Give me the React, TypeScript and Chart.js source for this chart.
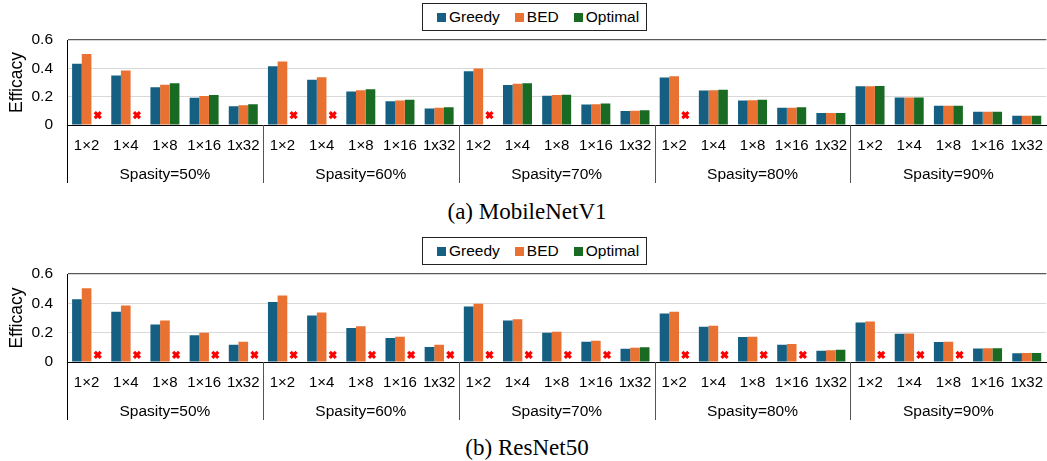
import React, { useEffect, useRef } from 'react';
import { Chart, registerables } from 'chart.js';

Chart.register(...registerables);

// ---------- data ----------
const blockSizes = ['1×2', '1×4', '1×8', '1×16', '1x32'];
const sparsityGroups = ['Spasity=50%', 'Spasity=60%', 'Spasity=70%', 'Spasity=80%', 'Spasity=90%'];
const categories = sparsityGroups.flatMap(() => blockSizes);

const yTickValues = [0, 0.2, 0.4, 0.6];
const yTickLabels = ['0', '0.2', '0.4', '0.6'];

const seriesNames = ['Greedy', 'BED', 'Optimal'];
const seriesColors = ['#156082', '#E97132', '#196B24'];

// (a) MobileNetV1
const greedyA = [0.433, 0.349, 0.267, 0.192, 0.133, 0.414, 0.320, 0.236, 0.168, 0.117, 0.379, 0.283, 0.206, 0.145, 0.098, 0.335, 0.243, 0.173, 0.122, 0.084, 0.274, 0.194, 0.136, 0.094, 0.065];
const bedA = [0.501, 0.384, 0.285, 0.204, 0.140, 0.449, 0.337, 0.246, 0.173, 0.122, 0.398, 0.292, 0.211, 0.147, 0.101, 0.344, 0.246, 0.175, 0.122, 0.084, 0.274, 0.194, 0.136, 0.094, 0.065];
const optimalA = [null, null, 0.295, 0.211, 0.147, null, null, 0.253, 0.178, 0.126, null, 0.295, 0.213, 0.152, 0.105, null, 0.248, 0.178, 0.126, 0.084, 0.275, 0.195, 0.136, 0.094, 0.065];
const missingMarkA = 0.07;

// (b) ResNet50
const greedyB = [0.428, 0.343, 0.255, 0.182, 0.117, 0.409, 0.317, 0.232, 0.163, 0.103, 0.379, 0.283, 0.200, 0.138, 0.090, 0.331, 0.241, 0.170, 0.117, 0.076, 0.269, 0.193, 0.136, 0.092, 0.060];
const bedB = [0.503, 0.386, 0.283, 0.200, 0.138, 0.453, 0.338, 0.244, 0.172, 0.117, 0.398, 0.292, 0.207, 0.145, 0.097, 0.343, 0.248, 0.172, 0.122, 0.080, 0.276, 0.195, 0.138, 0.094, 0.062];
const optimalB = [null, null, null, null, null, null, null, null, null, null, null, null, null, null, 0.101, null, null, null, null, 0.083, null, null, null, 0.094, 0.062];
const missingMarkB = 0.048;

const SANS = '"Liberation Sans", Arial, sans-serif';
const SERIF = '"Liberation Serif", "Times New Roman", serif';

type PanelProps = {
  top: number;
  height: number;
  greedy: (number | null)[];
  bed: (number | null)[];
  optimal: (number | null)[];
  missingMark: number;
  caption: string;
  captionTop: number;
};

function Panel({ top, height, greedy, bed, optimal, missingMark, caption, captionTop }: PanelProps) {
  const ref = useRef<HTMLCanvasElement | null>(null);

  useEffect(() => {
    if (!ref.current) return;
    const groupSize = blockSizes.length;

    const overlay = {
      id: 'overlay',
      afterDatasetsDraw(chart: any) {
        const ctx = chart.ctx;
        const yScale = chart.scales.y;
        const meta = chart.getDatasetMeta(2);
        ctx.save();
        ctx.strokeStyle = '#FF0000';
        ctx.lineWidth = 3.2;
        const s = 3;
        optimal.forEach((v, i) => {
          if (v !== null) return;
          const el = meta.data[i];
          if (!el) return;
          const x = el.x + 1.5;
          const y = yScale.getPixelForValue(missingMark);
          ctx.beginPath();
          ctx.moveTo(x - s, y - s);
          ctx.lineTo(x + s, y + s);
          ctx.moveTo(x + s, y - s);
          ctx.lineTo(x - s, y + s);
          ctx.stroke();
        });
        ctx.restore();
      },
      afterDraw(chart: any) {
        const ctx = chart.ctx;
        const xScale = chart.scales.x;
        const bottom = chart.chartArea.bottom;
        const end = bottom + 58;
        ctx.save();
        sparsityGroups.forEach((_, g) => {
          const x = Math.round(xScale.getPixelForValue(g * groupSize - 0.5)) + 0.5;
          ctx.strokeStyle = g === 0 ? '#000000' : '#555555';
          ctx.lineWidth = 1;
          ctx.beginPath();
          ctx.moveTo(x, bottom);
          ctx.lineTo(x, end);
          ctx.stroke();
        });
        ctx.restore();
      },
    };

    const chart = new Chart(ref.current, {
      type: 'bar',
      data: {
        labels: categories,
        datasets: [greedy, bed, optimal].map((d, k) => ({
          label: seriesNames[k],
          data: d,
          backgroundColor: seriesColors[k],
          borderWidth: 0,
          barPercentage: 1,
          categoryPercentage: 0.74,
        })),
      },
      options: {
        responsive: false,
        animation: false,
        layout: { padding: { top: 40, left: 0, right: 0, bottom: 0 } },
        plugins: {
          legend: { display: false },
          tooltip: { enabled: false },
        },
        scales: {
          x: {
            type: 'category',
            position: 'bottom',
            weight: 0,
            offset: true,
            grid: { display: false },
            border: { display: true, color: '#000000', width: 1 },
            ticks: {
              autoSkip: false,
              maxRotation: 0,
              minRotation: 0,
              padding: 4,
              color: '#000',
              font: { family: SANS, size: 15 },
            },
            afterFit: (s: any) => { s.height = 30; },
          },
          x2: {
            type: 'category',
            position: 'bottom',
            weight: 1,
            offset: true,
            labels: sparsityGroups,
            grid: { display: false },
            border: { display: false },
            ticks: {
              autoSkip: false,
              maxRotation: 0,
              minRotation: 0,
              padding: 2,
              color: '#000',
              font: { family: SANS, size: 15.5 },
            },
            afterFit: (s: any) => { s.height = 36; },
          },
          y: {
            min: 0,
            max: 0.6,
            afterBuildTicks: (s: any) => { s.ticks = yTickValues.map((v) => ({ value: v })); },
            grid: {
              drawTicks: false,
              color: (c: any) => (c.tick && c.tick.value >= 0.6 - 1e-9 ? '#595959' : '#d9d9d9'),
              lineWidth: (c: any) => (c.tick && c.tick.value >= 0.6 - 1e-9 ? 1.3 : 1),
            },
            border: { display: true, color: '#000000', width: 1 },
            ticks: {
              padding: 14,
              color: '#000',
              font: { family: SANS, size: 15.5 },
              callback: (_v: any, i: number) => yTickLabels[i],
            },
            title: {
              display: true,
              text: 'Efficacy',
              color: '#000',
              padding: { top: 7, bottom: 0 },
              font: { family: SANS, size: 17.5 },
            },
            afterFit: (s: any) => { s.width = 67; },
          },
        },
      } as any,
      plugins: [overlay],
    });
    return () => chart.destroy();
  }, []);

  return (
    <>
      <canvas
        ref={ref}
        width={1047}
        height={height}
        style={{ position: 'absolute', left: 0, top, width: 1047, height, display: 'block' }}
      />
      <div
        style={{
          position: 'absolute',
          left: 422,
          top: top + 3,
          width: 225,
          height: 28,
          boxSizing: 'border-box',
          border: '1px solid #222',
          background: '#fff',
          display: 'flex',
          alignItems: 'center',
          paddingLeft: 14,
          fontFamily: SANS,
          fontSize: 15.5,
          color: '#000',
        }}
      >
        {seriesNames.map((n, k) => (
          <span key={n} style={{ display: 'flex', alignItems: 'center', marginRight: k < 2 ? 15 : 0 }}>
            <span style={{ display: 'inline-block', width: 9, height: 9, background: seriesColors[k], marginRight: 3 }} />
            {n}
          </span>
        ))}
      </div>
      <div
        style={{
          position: 'absolute',
          left: 327,
          width: 400,
          top: captionTop,
          textAlign: 'center',
          fontFamily: SERIF,
          fontSize: 23,
          lineHeight: '26px',
          color: '#000',
        }}
      >
        {caption}
      </div>
    </>
  );
}

export default function App() {
  return (
    <div style={{ position: 'absolute', left: 0, top: 0, width: 1047, height: 461, background: '#fff', overflow: 'hidden' }}>
      <Panel top={0} height={191} greedy={greedyA} bed={bedA} optimal={optimalA} missingMark={missingMarkA} caption="(a) MobileNetV1" captionTop={199} />
      <Panel top={234} height={194} greedy={greedyB} bed={bedB} optimal={optimalB} missingMark={missingMarkB} caption="(b) ResNet50" captionTop={435} />
    </div>
  );
}
